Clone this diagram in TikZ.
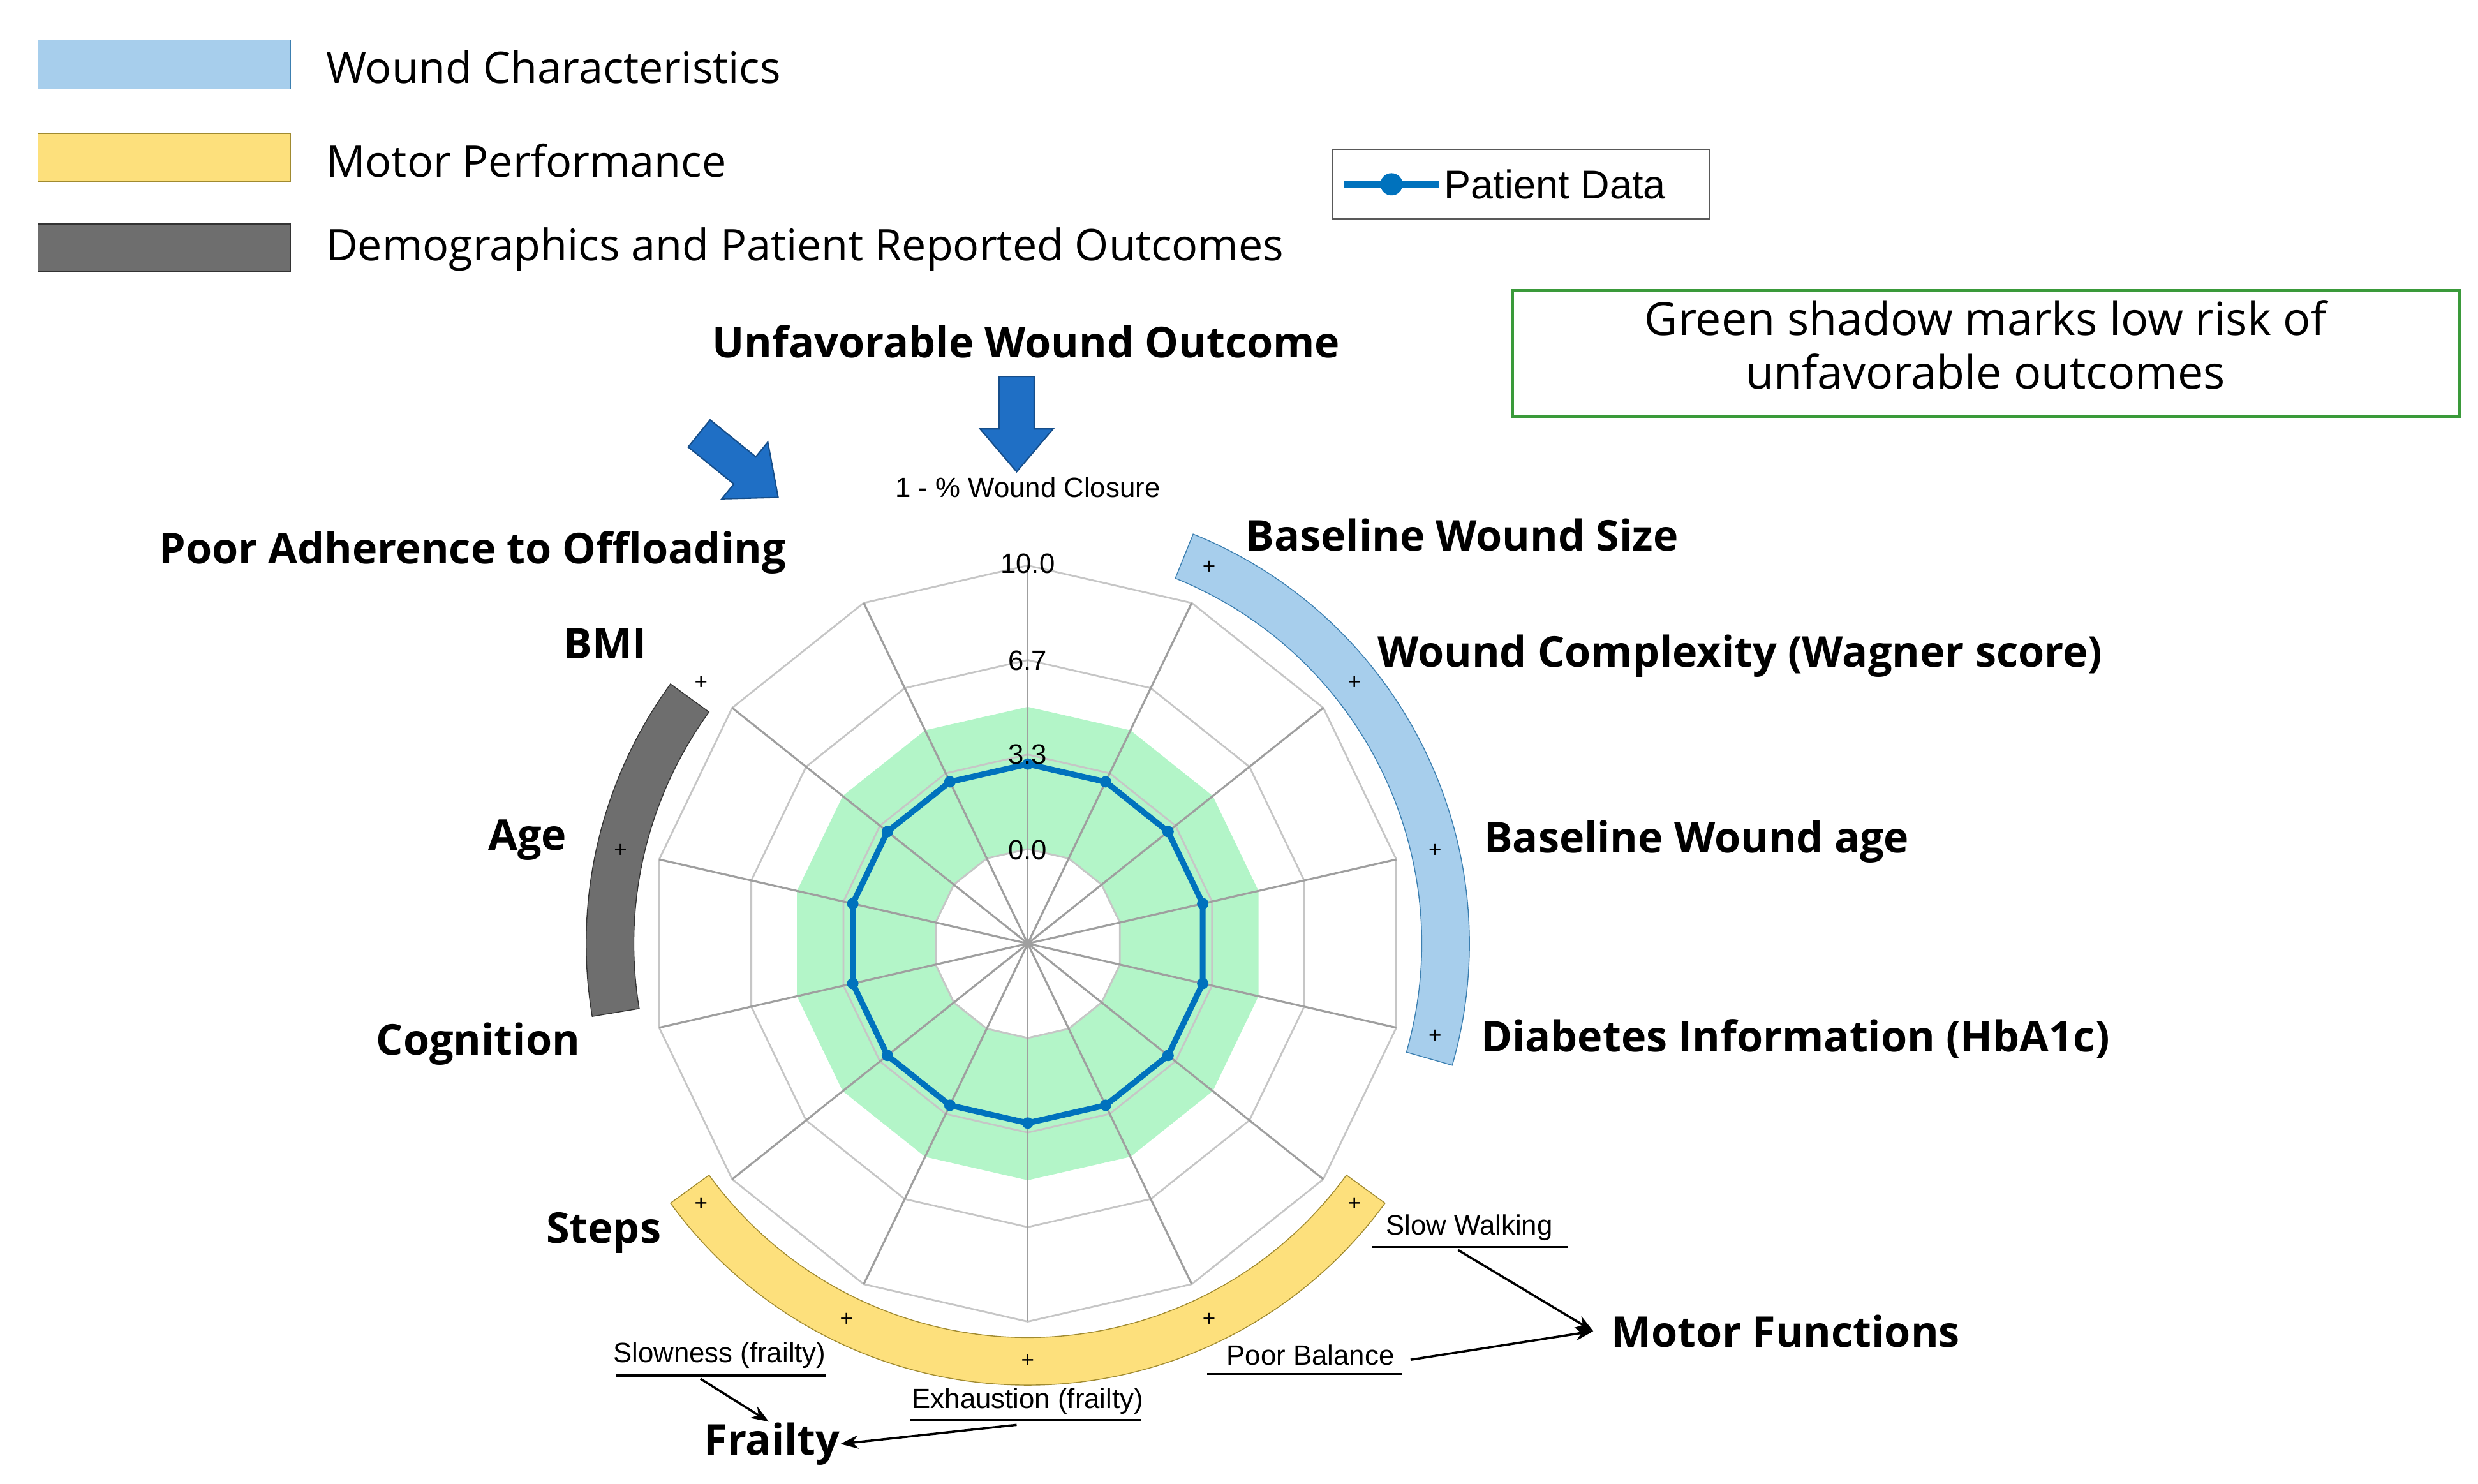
\documentclass[tikz,border=0pt]{standalone}
\usepackage{fontspec}
\setmainfont{Open Sans}
\newfontfamily\arial{Liberation Sans}
\usetikzlibrary{arrows.meta}
\definecolor{gfill}{HTML}{B3F5C8}
\definecolor{pblue}{HTML}{0072BD}
\definecolor{bband}{HTML}{A7CEEC}
\definecolor{bedge}{HTML}{3C7FB0}
\definecolor{yband}{HTML}{FDE07C}
\definecolor{yedge}{HTML}{A08A30}
\definecolor{gband}{HTML}{6E6E6E}
\definecolor{ablue}{HTML}{1F6FC5}
\definecolor{gbox}{HTML}{3A9A3A}
\begin{document}
\begin{tikzpicture}[x=0.025cm,y=0.025cm,
 lab/.style={font=\fontsize{19}{22}\selectfont\bfseries,inner sep=0},
 leg/.style={font=\fontsize{19.5}{22}\selectfont,anchor=west,inner sep=0},
 small/.style={font=\arial\fontsize{12.5}{14}\selectfont,inner sep=0},
 ring/.style={gray!45,line width=0.8pt},
 spoke/.style={gray!75,line width=0.9pt},
 mk/.style={font=\arial\fontsize{10}{10}\selectfont,inner sep=0},
 blk/.style={fill=ablue,draw=ablue!70!black,line width=0.6pt},
 ann/.style={-{Stealth[length=8pt]},line width=1pt}]
\useasboundingbox (0,0) rectangle (1560,-934.2);
% legend
\draw[bedge,fill=bband] (24,-25) rectangle (183,-56);
\draw[yedge,fill=yband] (24,-84) rectangle (183,-114);
\draw[black!80,fill=gband] (24,-141) rectangle (183,-171);
\node[leg] (l1) at (205,-42) {Wound Characteristics};
\node[leg] (l2) at (205,-101) {Motor Performance};
\node[leg] (l3) at (205,-157) {Demographics and Patient Reported Outcomes};
% patient data legend
\draw[gray!70!black,line width=0.8pt,fill=white] (839,-94) rectangle (1076,-138);
\draw[pblue,line width=3pt] (846,-116) -- (906,-116);
\fill[pblue] (876,-116) circle (7);
\node[font=\arial\fontsize{18}{20}\selectfont,anchor=west,inner sep=0] (pd) at (909,-116) {Patient Data};
% green box
\draw[gbox,line width=1.5pt] (952,-183) rectangle (1548,-262);
\node[font=\fontsize{20.5}{24}\selectfont,align=center,inner sep=0] (gb) at (1250,-217) {Green shadow marks low risk of\\unfavorable outcomes};
% radar
\begin{scope}[shift={(647,-594)}]
\fill[gfill,even odd rule] (90:149) \foreach \i in {1,...,13}{ -- ({90-\i*360/14}:149)} -- cycle
 (90:59) \foreach \i in {1,...,13}{ -- ({90-\i*360/14}:59)} -- cycle;
\foreach \r in {59.5,119,178.5,238}{
 \draw[ring] (90:\r) \foreach \i in {1,...,13}{ -- ({90-\i*360/14}:\r)} -- cycle;}
\foreach \i in {0,...,13}{\draw[spoke] (0,0) -- ({90-\i*360/14}:238);}
\draw[pblue,line width=2.6pt,line join=round] (90:113) \foreach \i in {1,...,13}{ -- ({90-\i*360/14}:113)} -- cycle;
\foreach \i in {0,...,13}{\fill[pblue] ({90-\i*360/14}:113) circle (3.6);}
\node[small] (v10) at (0,239) {10.0};
\node[small] (v67) at (0,178) {6.7};
\node[small] (v33) at (0,119) {3.3};
\node[small] (v00) at (0,59) {0.0};
% bands
\draw[bedge,fill=bband] (68:248) arc[start angle=68,end angle=-16,radius=248] -- (-16:278) arc[start angle=-16,end angle=68,radius=278] -- cycle;
\draw[yedge,fill=yband] (-36:248) arc[start angle=-36,end angle=-144,radius=248] -- (-144:278) arc[start angle=-144,end angle=-36,radius=278] -- cycle;
\draw[black!80,fill=gband] (144:248) arc[start angle=144,end angle=189.5,radius=248] -- (189.5:278) arc[start angle=189.5,end angle=144,radius=278] -- cycle;
\foreach \i in {1,2,3,4,5,6,7,8,9,11,12}{\node[mk] at ({90-\i*360/14}:263) {+};}
\end{scope}
\node[small] (wc) at (647,-307) {1 - \% Wound Closure};
\node[lab] (uwo) at (646,-215) {Unfavorable Wound Outcome};
% block arrows
\draw[blk] (629,-237) -- (651,-237) -- (651,-270) -- (663,-270) -- (640,-297) -- (617,-270) -- (629,-270) -- cycle;
\begin{scope}[shift={(465,-293)},rotate=-39]
\draw[blk] (-32,11) -- (5,11) -- (5,23) -- (32,0) -- (5,-23) -- (5,-11) -- (-32,-11) -- cycle;
\end{scope}
\node[lab,anchor=east] (pao) at (495,-348) {Poor Adherence to Offloading};
\node[lab] (bmi) at (381,-405) {BMI};
\node[lab] (age) at (332,-529) {Age};
\node[lab] (cog) at (301,-657) {Cognition};
\node[lab] (stp) at (380,-776) {Steps};
\node[lab,anchor=west] (bws) at (784,-337) {Baseline Wound Size};
\node[lab,anchor=west] (wcx) at (867,-413) {Wound Complexity (Wagner score)};
\node[lab,anchor=west] (bwa) at (934,-530) {Baseline Wound age};
\node[lab,anchor=west] (dia) at (932,-654) {Diabetes Information (HbA1c)};
% annotations
\node[small] (sw) at (925,-773) {Slow Walking};
\draw[line width=1pt] (864,-785) -- (987,-785);
\node[small] (pb) at (825,-853) {Poor Balance};
\draw[line width=1pt] (760,-865) -- (883,-865);
\node[lab,anchor=west] (mf) at (1014,-838) {Motor Functions};
\coordinate (mft) at (1003,-838);
\draw[ann] (918,-787) -- (mft);
\draw[ann] (888,-856) -- (mft);
\node[small] (sl) at (453,-853) {Slowness (frailty)};
\draw[line width=1pt] (388,-866) -- (520,-866);
\node[small] (ex) at (647,-882) {Exhaustion (frailty)};
\draw[line width=1pt] (573,-894) -- (718,-894);
\node[lab] (fr) at (486,-909) {Frailty};
\draw[ann] (441,-868) -- (484,-895);
\draw[ann] (640,-897) -- (fr.east);
\end{tikzpicture}
\end{document}
